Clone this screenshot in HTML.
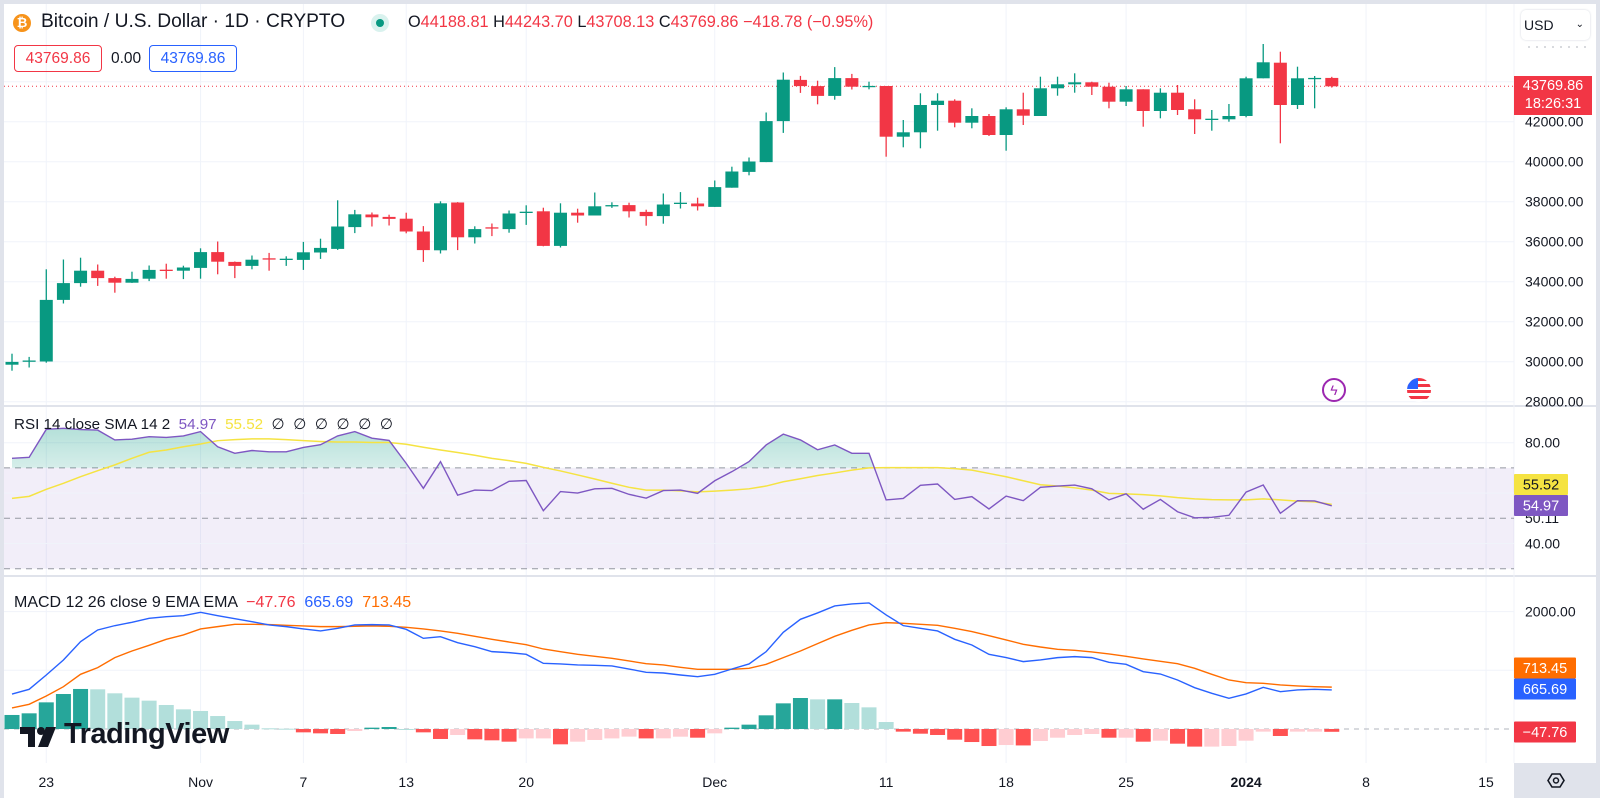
<!DOCTYPE html>
<html><head><meta charset="utf-8"><style>
html,body{margin:0;padding:0;background:#fff;}
#wrap{position:relative;width:1600px;height:798px;overflow:hidden;font-family:"Liberation Sans",sans-serif;color:#131722;background:#fff;}
.abs{position:absolute;white-space:nowrap;}
svg text{font-family:"Liberation Sans",sans-serif;}
</style></head><body>
<div id="wrap">
<svg id="chart" width="1600" height="798" style="position:absolute;left:0;top:0"></svg>

<div class="abs" style="left:13px;top:14px;width:18px;height:18px;border-radius:50%;background:#f7931a;color:#fff;font-size:13px;font-weight:bold;text-align:center;line-height:18px">₿</div>
<div class="abs" style="left:41px;top:11px;font-size:19.2px;color:#131722">Bitcoin / U.S. Dollar · 1D · CRYPTO</div>
<div class="abs" style="left:371px;top:14px;width:18px;height:18px;border-radius:50%;background:#d9f2ee"><div style="position:absolute;left:5px;top:5px;width:8px;height:8px;border-radius:50%;background:#089981"></div></div>
<div class="abs" style="left:408px;top:13px;font-size:16.3px;color:#f23645"><span style="color:#131722">O</span>44188.81 <span style="color:#131722">H</span>44243.70 <span style="color:#131722">L</span>43708.13 <span style="color:#131722">C</span>43769.86 −418.78 (−0.95%)</div>
<div class="abs" style="left:14px;top:45px;width:86px;height:25px;border:1px solid #f23645;border-radius:4px;font-size:15.5px;color:#f23645;text-align:center;line-height:25px">43769.86</div>
<div class="abs" style="left:111px;top:50px;font-size:15.5px;color:#131722">0.00</div>
<div class="abs" style="left:149px;top:45px;width:86px;height:25px;border:1px solid #2962ff;border-radius:4px;font-size:15.5px;color:#2962ff;text-align:center;line-height:25px">43769.86</div>

<div class="abs" style="left:1521px;top:10px;width:69px;height:30px;background:#fff;border-radius:5px;box-shadow:0 0 2px #d1d4dc;font-size:14px;line-height:30px"><span style="margin-left:3px">USD</span><span style="position:absolute;right:6px;top:0;font-size:10px">⌄</span></div>

<div class="abs" style="left:1514px;top:76px;width:78px;height:38px;background:#f23645;color:#fff;font-size:14.5px;text-align:center;line-height:18px;padding-top:1px">43769.86<br>18:26:31</div>

<div class="abs" style="left:1322px;top:378px;width:20px;height:20px;border:2px solid #9c27b0;border-radius:50%;color:#9c27b0;font-size:14px;text-align:center;line-height:20px">ϟ</div>
<div class="abs" style="left:1407px;top:378px;width:24px;height:24px;border-radius:50%;overflow:hidden;background:repeating-linear-gradient(#f23645 0 3px,#fff 3px 6px)"><div style="width:11px;height:11px;background:#2962ff"></div></div>

<div class="abs" style="left:14px;top:415px;font-size:15.2px;color:#131722">RSI 14 close SMA 14 2 &nbsp;<span style="color:#7e57c2">54.97</span> &nbsp;<span style="color:#f5e342">55.52</span> &nbsp;∅ &nbsp;∅ &nbsp;∅ &nbsp;∅ &nbsp;∅ &nbsp;∅</div>
<div class="abs" style="left:14px;top:594px;font-size:16px;color:#131722">MACD 12 26 close 9 EMA EMA &nbsp;<span style="color:#f23645">−47.76</span> &nbsp;<span style="color:#2962ff">665.69</span> &nbsp;<span style="color:#ff6d00">713.45</span></div>

<div class="abs" style="left:20px;top:720px;height:32px">
<svg width="40" height="28" style="position:absolute;left:0;top:3px"><rect x="0" y="4" width="15" height="7" fill="#131722"/><rect x="8" y="4" width="7" height="20" fill="#131722"/><circle cx="21" cy="8" r="4" fill="#131722"/><polygon points="26,4 36,4 28,24 18,24" fill="#131722"/></svg>
<span style="position:absolute;left:44px;top:-2px;font-size:29px;font-weight:bold;color:#131722;letter-spacing:-0.5px">TradingView</span></div>

<div class="abs" style="left:1514px;top:763px;width:84px;height:35px;background:#e0e3eb">
<svg width="84" height="35"><polygon points="34,17.5 38,11 46,11 50,17.5 46,24 38,24" fill="none" stroke="#131722" stroke-width="1.6"/><circle cx="42" cy="17.5" r="2.5" fill="none" stroke="#131722" stroke-width="1.5"/></svg></div>
</div>

<script>
// ---- data ----
const opens=[29850,30000,30010,33090,33930,34550,34180,33950,34150,34600,34550,34690,35480,34990,34790,35170,35110,35090,35460,35640,36730,37360,37240,37150,36510,35570,37960,36220,36720,36630,37450,37520,35790,37450,37310,37780,37830,37490,37280,37910,37910,37740,38700,39490,39980,42030,44090,43780,43290,44180,43750,43785,41250,41470,42835,43050,41950,42285,41335,42620,42285,43670,43870,43970,43750,43000,43620,42535,43450,42620,42100,42120,42285,44170,44950,42835,44150,44188.81];
const closes=[29990,30060,33090,33930,34550,34180,33950,34140,34590,34550,34710,35480,35000,34790,35100,35130,35150,35470,35690,36760,37370,37220,37140,36510,35580,37920,36220,36630,36670,37410,37500,35790,37450,37310,37770,37830,37520,37280,37860,37950,37770,38730,39510,40010,42030,44100,43780,43290,44180,43750,43790,41250,41470,42835,43050,41950,42285,41335,42620,42300,43670,43870,43970,43750,43000,43620,42535,43450,42585,42120,42150,42285,44170,44970,42835,44170,44190,43769.86];
const highs=[30400,30240,34620,35110,35200,34860,34250,34500,34810,34900,34800,35670,36010,35010,35310,35440,35270,35990,36150,38070,37590,37460,37350,37450,36780,38020,37980,36770,36910,37560,37820,37700,37920,37650,38460,37970,37950,37600,38410,38480,38200,39060,39750,40210,42460,44460,44290,44050,44730,44390,44000,43785,42085,43420,43420,43120,42670,42385,42720,43450,44250,44250,44420,44000,43950,43785,43620,43670,43835,43120,42585,42885,44250,45885,45500,44750,44285,44243.70];
const lows=[29550,29710,29950,32910,33750,33790,33450,33940,34030,34150,34130,34150,34370,34180,34620,34550,34790,34590,35140,35590,36430,36760,36810,36420,34990,35410,35580,35910,36280,36450,36840,35770,35710,36950,37310,37690,37210,36800,36900,37660,37560,37740,38700,39320,39980,41440,43440,42870,43100,43610,43620,40250,40720,40670,41550,41720,41670,41285,40550,41835,42285,43300,43450,43335,42670,42785,41750,42170,42335,41385,41550,42000,42220,44170,40920,42635,42670,43708.13];
const rsi=[73.8,74.2,85.3,85.7,85.2,85.0,81.1,81.4,82.4,82.1,82.7,84.4,78.4,75.8,76.9,76.4,76.4,78.1,79.2,82.7,84.4,81.8,80.9,71.8,61.9,72.5,59.2,61.2,61.0,64.7,65.0,53.0,60.6,60.0,61.7,61.9,59.5,58.0,61.0,61.2,59.9,64.9,68.5,72.5,79.1,83.4,81.1,77.2,79.1,75.8,75.8,57.3,57.9,63.1,63.6,57.5,58.6,53.7,58.8,57.0,62.3,62.8,63.2,61.7,57.3,59.7,53.6,57.5,52.6,50.2,50.4,51.2,60.4,63.2,52.0,57.0,56.9,54.97];
const rsiSma=[57.9,58.7,61.5,63.9,66.5,68.9,71.2,73.8,76.2,77.1,78.4,79.5,80.8,81.2,81.5,81.5,81.2,80.8,80.5,80.3,80.3,80.1,80.1,79.4,78.2,77.1,76.1,75.0,73.8,72.9,71.8,70.2,68.8,67.2,65.6,63.9,62.3,61.2,61.2,60.9,60.5,60.8,61.2,61.7,62.8,64.5,65.7,67.0,68.0,69.1,70.0,70.1,70.1,70.1,70.1,69.7,69.1,67.8,66.5,64.9,63.3,62.8,62.1,61.2,59.9,59.7,59.4,58.9,58.2,57.7,57.4,57.3,57.3,57.7,57.3,56.8,56.5,55.52];
const macdLine=[596,676,920,1176,1488,1687,1761,1818,1886,1914,1931,1988,1931,1880,1829,1772,1744,1704,1670,1716,1772,1778,1772,1698,1545,1573,1471,1403,1318,1301,1272,1119,1108,1091,1085,1074,1022,966,954,920,892,932,1022,1108,1318,1647,1869,1977,2096,2130,2147,1943,1761,1715,1670,1528,1431,1272,1216,1148,1176,1216,1233,1216,1136,1102,977,937,835,704,608,523,597,710,636,665,676,665.69];
const signalLine=[358,421,562,721,932,1045,1216,1329,1426,1528,1602,1704,1744,1784,1784,1778,1767,1755,1744,1744,1750,1755,1750,1733,1704,1670,1630,1579,1528,1482,1437,1363,1318,1272,1238,1204,1159,1113,1091,1051,1017,1017,1017,1034,1102,1216,1329,1454,1579,1681,1772,1812,1801,1784,1767,1715,1659,1590,1517,1443,1397,1358,1341,1312,1278,1238,1193,1153,1113,1034,932,835,789,778,750,733,721,713.45];
const histogram=[239,267,454,596,682,676,608,534,483,409,335,307,221,136,74,12,5,-57,-74,-85,-34,23,34,0,-57,-170,-102,-176,-193,-216,-160,-160,-261,-216,-187,-160,-130,-160,-159,-131,-148,-74,23,74,233,437,528,505,505,443,369,119,-45,-80,-102,-182,-222,-290,-273,-280,-204,-148,-102,-85,-148,-148,-216,-199,-250,-300,-300,-290,-199,-45,-119,-45,-45,-47.76];
const priceTicks=[42000,40000,38000,36000,34000,32000,30000,28000];
const priceTickLabels=["42000.00","40000.00","38000.00","36000.00","34000.00","32000.00","30000.00","28000.00"];
const rsiTicks=[80,63.40,50.11,40];
const rsiTickLabels=["80.00","63.40","50.11","40.00"];
const macdTicks=[2000];
const macdTickLabels=["2000.00"];
const dateIdx=[2,11,17,23,30,41,51,58,65,72,79,86];
const dateLabels=["23","Nov","7","13","20","Dec","11","18","25","2024","8","15"];
const lastPrice=43769.86;

// ---- scales ----
const PLOT_R=1514;
const xAt=i=>12+i*17.14;
const yP=p=>121.7-(p-42000)/50;
const yR=v=>518.3-(v-50)*2.52;
const yM=v=>729-v*0.0587;
const NS="http://www.w3.org/2000/svg";
const svg=document.getElementById('chart');
function mk(tag,attrs,parent){const e=document.createElementNS(NS,tag);for(const k in attrs)e.setAttribute(k,attrs[k]);(parent||svg).appendChild(e);return e;}

let g;
g=mk('rect',{x:0,y:0,width:1600,height:4,fill:'#e0e3eb'});


g=mk('rect',{x:0,y:0,width:4,height:798,fill:'#e0e3eb'});


g=mk('rect',{x:1596,y:0,width:4,height:798,fill:'#e0e3eb'});


[[405,'rsi-pane-separator'],[575,'macd-pane-separator']].forEach(s=>{
  const r=mk('rect',{x:4,y:s[0],width:1592,height:2,fill:'#e0e3eb'});
  
  
});
g=mk('line',{x1:PLOT_R,y1:4,x2:PLOT_R,y2:763,stroke:'#f0f3fa','stroke-width':1});



dateIdx.forEach((d,k)=>{
  const x=xAt(d);
  [[4,405],[407,575],[577,763]].forEach(r=>{
    const l=mk('line',{x1:x,y1:r[0],x2:x,y2:r[1],stroke:'#f0f3fa','stroke-width':1});
    
    
  });
  const t=mk('text',{x:x,y:787,'text-anchor':'middle','font-size':14,fill:'#131722','font-weight':dateLabels[k]==='2024'?'bold':'normal'});
  t.textContent=dateLabels[k];
  
  
});

priceTicks.forEach((p,k)=>{
  const y=yP(p);
  const l=mk('line',{x1:4,y1:y,x2:PLOT_R,y2:y,stroke:'#f0f3fa','stroke-width':1});
  
  
  const t=mk('text',{x:1525,y:y+5,'font-size':14,fill:'#131722'});
  t.textContent=priceTickLabels[k];
  
  
});
g=mk('line',{x1:4,y1:yP(44000),x2:PLOT_R,y2:yP(44000),stroke:'#f0f3fa','stroke-width':1});


g=mk('line',{x1:1528,y1:47,x2:1590,y2:47,stroke:'#b2b5be','stroke-width':1,'stroke-dasharray':'2,6'});



g=mk('line',{x1:4,y1:yP(lastPrice),x2:PLOT_R,y2:yP(lastPrice),stroke:'#f23645','stroke-width':1,'stroke-dasharray':'1,3'});



const cg=mk('g',{});


opens.forEach((o,i)=>{
  const c=closes[i],x=xAt(i);
  const col=c>=o?'#089981':'#f23645';
  const w=mk('line',{x1:x,y1:yP(highs[i]),x2:x,y2:yP(lows[i]),stroke:col,'stroke-width':1.3},cg);
  
  
  const top=yP(Math.max(o,c)),bot=yP(Math.min(o,c));
  const b=mk('rect',{x:x-6.5,y:top,width:13,height:Math.max(1.3,bot-top),fill:col},cg);
  
  
});

// ---- RSI pane ----
g=mk('rect',{x:4,y:yR(70),width:PLOT_R-4,height:yR(30)-yR(70),fill:'rgba(126,87,194,0.1)'});


[80,60,40].forEach(v=>{
  const l=mk('line',{x1:4,y1:yR(v),x2:PLOT_R,y2:yR(v),stroke:'#f0f3fa','stroke-width':1});
  
  
});
[70,50,30].forEach(v=>{
  const l=mk('line',{x1:4,y1:yR(v),x2:PLOT_R,y2:yR(v),stroke:'#9598a1','stroke-width':1,'stroke-dasharray':'6,5'});
  
  
});
const defs=mk('defs',{});
const lg=mk('linearGradient',{id:'obg',x1:0,y1:0,x2:0,y2:1},defs);
mk('stop',{offset:'0','stop-color':'#089981','stop-opacity':'0.3'},lg);
mk('stop',{offset:'1','stop-color':'#089981','stop-opacity':'0'},lg);
const cp=mk('clipPath',{id:'above70'},defs);
mk('rect',{x:0,y:yR(90),width:1600,height:yR(70)-yR(90)},cp);
let fillD='M'+xAt(0)+','+yR(70);
rsi.forEach((v,i)=>{fillD+=' L'+xAt(i)+','+yR(v);});
fillD+=' L'+xAt(rsi.length-1)+','+yR(70)+' Z';
g=mk('path',{d:fillD,fill:'url(#obg)','clip-path':'url(#above70)'});


g=mk('polyline',{points:rsiSma.map((v,i)=>xAt(i)+','+yR(v)).join(' '),fill:'none',stroke:'#f5e342','stroke-width':1.5});


g=mk('polyline',{points:rsi.map((v,i)=>xAt(i)+','+yR(v)).join(' '),fill:'none',stroke:'#7e57c2','stroke-width':1.4});


rsiTicks.forEach((v,k)=>{
  const t=mk('text',{x:1525,y:yR(v)+5,'font-size':14,fill:'#131722'});
  t.textContent=rsiTickLabels[k];
  
  
});
function tag(val,bg,fg,name,w){
  const y=val.y;
  const r=mk('rect',{x:1514,y:y-10.5,width:w,height:21,fill:bg,rx:1});
  
  
  const t=mk('text',{x:1514+w/2,y:y+5,'text-anchor':'middle','font-size':14.5,fill:fg});
  t.textContent=val.t;
  
  
}
tag({y:484.5,t:rsiSma[rsiSma.length-1].toFixed(2)},'#f5e342','#131722','rsi-sma-value-label',54);
tag({y:505.5,t:rsi[rsi.length-1].toFixed(2)},'#7e57c2','#ffffff','rsi-value-label',54);

// ---- MACD pane ----
[2000,1000].forEach(v=>{
  const l=mk('line',{x1:4,y1:yM(v),x2:PLOT_R,y2:yM(v),stroke:'#f0f3fa','stroke-width':1});
  
  
});
g=mk('line',{x1:4,y1:yM(0),x2:PLOT_R,y2:yM(0),stroke:'#b2b5be','stroke-width':1,'stroke-dasharray':'5,5'});


histogram.forEach((v,i)=>{
  const prev=i>0?histogram[i-1]:0;
  let col;
  if(v>=0)col=v>=prev?'#26a69a':'#b2dfdb';else col=v<prev?'#ff5252':'#ffcdd2';
  const y0=yM(0),y1=yM(v);
  const r=mk('rect',{x:xAt(i)-7.5,y:Math.min(y0,y1),width:15,height:Math.max(1,Math.abs(y1-y0)),fill:col});
  
  
});
g=mk('polyline',{points:signalLine.map((v,i)=>xAt(i)+','+yM(v)).join(' '),fill:'none',stroke:'#ff6d00','stroke-width':1.4});


g=mk('polyline',{points:macdLine.map((v,i)=>xAt(i)+','+yM(v)).join(' '),fill:'none',stroke:'#2962ff','stroke-width':1.4});


macdTicks.forEach((v,k)=>{
  const t=mk('text',{x:1525,y:yM(v)+5,'font-size':14,fill:'#131722'});
  t.textContent=macdTickLabels[k];
  
  
});
tag({y:668,t:signalLine[signalLine.length-1].toFixed(2)},'#ff6d00','#ffffff','macd-signal-value-label',62);
tag({y:689,t:macdLine[macdLine.length-1].toFixed(2)},'#2962ff','#ffffff','macd-value-label',62);
tag({y:732,t:'−'+Math.abs(histogram[histogram.length-1]).toFixed(2)},'#f23645','#ffffff','macd-histogram-value-label',62);
</script>
</body></html>
